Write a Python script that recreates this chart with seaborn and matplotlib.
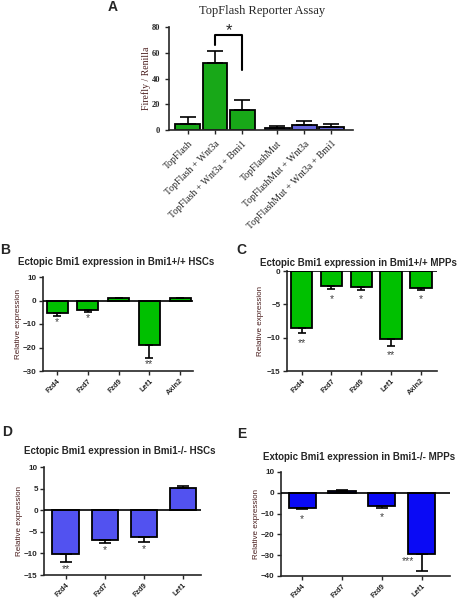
import matplotlib
matplotlib.use("Agg")
import matplotlib.pyplot as plt
import seaborn as sns
import numpy as np
import pandas as pd

# ---- Panel A: TopFlash reporter assay
a_labels = ["TopFlash", "TopFlash + Wnt3a", "TopFlash + Wnt3a + Bmi1",
            "TopFlashMut", "TopFlashMut + Wnt3a", "TopFlashMut + Wnt3a + Bmi1"]
a_group = ["wt", "wt", "wt", "mut", "mut", "mut"]
a_mean = [5, 52, 15.5, 1.5, 4, 2.5]
a_err = [5, 9, 8, 1.5, 3, 2.5]

# ---- Panels B-E: relative expression
b_genes = ["Fzd4", "Fzd7", "Fzd9", "Lef1", "Axin2"]
b_mean = [-5.5, -4, 0.9, -19, 0.9]
b_err = [1.0, 1.0, 0.2, 5.5, 0.2]
b_stars = ["*", "*", "", "**", ""]

c_genes = ["Fzd4", "Fzd7", "Fzd9", "Lef1", "Axin2"]
c_mean = [-8.5, -2.3, -2.4, -10.2, -2.5]
c_err = [0.8, 0.4, 0.4, 1.0, 0.3]
c_stars = ["**", "*", "*", "**", "*"]

d_genes = ["Fzd4", "Fzd7", "Fzd9", "Lef1"]
d_mean = [-10.2, -6.9, -6.3, 5.1]
d_err = [1.8, 0.7, 1.1, 0.5]
d_stars = ["**", "*", "*", ""]

e_genes = ["Fzd4", "Fzd7", "Fzd9", "Lef1"]
e_mean = [-7.2, 1.0, -6.5, -29.5]
e_err = [0.8, 0.2, 1.0, 8.0]
e_stars = ["*", "", "*", "***"]

GREEN = "#00c000"
LBLUE = "#5252f0"
BLUE = "#0a0af5"
LABCOL = "#4a1e1e"
STARCOL = "#404040"

sns.set_style("ticks")
plt.rcParams["font.family"] = ["Liberation Sans", "DejaVu Sans"]
plt.rcParams["axes.linewidth"] = 1.2
plt.rcParams["xtick.major.width"] = 1.0
plt.rcParams["ytick.major.width"] = 1.0
plt.rcParams["xtick.major.size"] = 3
plt.rcParams["ytick.major.size"] = 3

W, H = 457, 600
fig = plt.figure(figsize=(W / 100, H / 100), dpi=100)


def box(x0, x1, ytop, ybot):
    return [x0 / W, 1 - ybot / H, (x1 - x0) / W, (ybot - ytop) / H]


def ftext(x, y, s, **kw):
    fig.text(x / W, 1 - y / H, s, **kw)


def errbars(ax, xs, mean, err, cap):
    mean = np.array(mean)
    err = np.array(err)
    up = np.where(mean > 0, err, 0)
    lo = np.where(mean < 0, err, 0)
    ax.errorbar(xs, mean, yerr=[lo, up], fmt="none", ecolor="black",
                elinewidth=1.2, capsize=cap, capthick=1.2, zorder=3)


# ---------------- Panel A
A_L, A_R = 169, 353
axA = fig.add_axes(box(A_L, A_R, 27, 130))
a_pos = [0, 1, 2, 3.3, 4.3, 5.3]
dfA = pd.DataFrame({"x": a_pos, "y": a_mean, "g": a_group})
sns.barplot(data=dfA, x="x", y="y", hue="g", native_scale=True,
            palette={"wt": GREEN, "mut": LBLUE}, width=0.92,
            edgecolor="black", linewidth=1.3, errorbar=None, legend=False, ax=axA)
errbars(axA, a_pos, a_mean, a_err, 6)
axA.set_xlim(-0.7, 6.1)
axA.set_ylim(0, 80)
axA.set_yticks([0, 20, 40, 60, 80])
axA.set_xticks(a_pos)
axA.set_xticklabels(a_labels, rotation=45, ha="right", rotation_mode="anchor",
                    family="Liberation Serif", fontsize=7)
axA.tick_params(axis="y", labelsize=6)
for t in axA.get_yticklabels():
    t.set_family("Liberation Serif")
    t.set_fontweight("bold")
axA.set_xlabel("")
axA.set_ylabel("Firefly / Renilla", family="Liberation Serif", fontsize=7,
               color=LABCOL)
axA.yaxis.set_label_coords((151 - A_L) / (A_R - A_L), 0.5)
sns.despine(ax=axA)
# significance bracket
axA.plot([1, 1, 2, 2], [66, 74, 74, 46.5], color="black", lw=1.5, clip_on=False)
axA.text(1.5, 77.5, "*", ha="center", va="center", fontsize=12, clip_on=False)
ftext(262, 11, "TopFlash Reporter Assay", ha="center", va="center",
      family="Liberation Serif", fontsize=9)
ftext(113, 7, "A", ha="center", va="center", fontsize=10, fontweight="bold")


def expr_panel(px, genes, mean, err, stars, color, ylim, yticks, xlim,
               width, cap, star_off, ylab_x):
    x0, x1, yt, yb = px
    ax = fig.add_axes(box(x0, x1, yt, yb))
    df = pd.DataFrame({"gene": genes, "val": mean})
    sns.barplot(data=df, x="gene", y="val", color=color, width=width,
                edgecolor="black", linewidth=1.3, errorbar=None, ax=ax)
    for p in ax.patches:
        p.set_facecolor(color)
    xs = np.arange(len(genes))
    errbars(ax, xs, mean, err, cap)
    ax.axhline(0, color="black", lw=1.2, zorder=4)
    for x, m, e, s in zip(xs, mean, err, stars):
        if s:
            ax.text(x, m - e - star_off, s, ha="center", va="top",
                    fontsize=7.5, color=STARCOL)
    ax.set_xlim(*xlim)
    ax.set_ylim(*ylim)
    ax.set_yticks(yticks)
    ax.set_xticks(xs)
    ax.set_xticklabels(genes, rotation=45, ha="right", rotation_mode="anchor",
                       fontsize=5.3, fontweight="bold")
    ax.tick_params(axis="x", pad=1.5)
    ax.tick_params(axis="y", labelsize=5.8, pad=1.5)
    for t in ax.get_yticklabels():
        t.set_fontweight("bold")
    ax.set_xlabel("")
    ax.set_ylabel("Relative expression", fontsize=5.8, color=LABCOL)
    ax.yaxis.set_label_coords((ylab_x - x0) / (x1 - x0), 0.5)
    sns.despine(ax=ax)
    return ax


# ---------------- Panel B
axB = expr_panel((43, 193, 277, 371), b_genes, b_mean, b_err, b_stars, GREEN,
                 (-30, 10), [-30, -20, -10, 0, 10], (-0.46, 4.42), 0.68, 3,
                 0.4, 22)
ftext(116, 262, "Ectopic Bmi1 expression in Bmi1+/+ HSCs", ha="center",
      va="center", fontsize=7, fontweight="semibold")
ftext(5, 250, "B", ha="center", va="center", fontsize=10, fontweight="bold")

# ---------------- Panel C
axC = expr_panel((287, 437, 271, 371), c_genes, c_mean, c_err, c_stars, GREEN,
                 (-15, 0), [-15, -10, -5, 0], (-0.49, 4.54), 0.72, 3,
                 0.7, 264)
ftext(358, 263, "Ectopic Bmi1 expression in Bmi1+/+ MPPs", ha="center",
      va="center", fontsize=7, fontweight="semibold")
ftext(241, 250, "C", ha="center", va="center", fontsize=10, fontweight="bold")

# ---------------- Panel D
axD = expr_panel((44, 201, 467, 575), d_genes, d_mean, d_err, d_stars, LBLUE,
                 (-15, 10), [-15, -10, -5, 0, 5, 10], (-0.55, 3.46), 0.67, 4,
                 0.5, 23)
ftext(120, 451, "Ectopic Bmi1 expression in Bmi1-/- HSCs", ha="center",
      va="center", fontsize=7, fontweight="semibold")
ftext(7, 432, "D", ha="center", va="center", fontsize=10, fontweight="bold")

# ---------------- Panel E
e_stars_main = [s if s != "***" else "" for s in e_stars]
axE = expr_panel((281, 450, 472, 576), e_genes, e_mean, e_err, e_stars_main, BLUE,
                 (-40, 10), [-40, -30, -20, -10, 0, 10], (-0.53, 3.71), 0.68, 4,
                 2.0, 260)
# the *** on Lef1 sits left of its long error bar
axE.text(3 - 0.34, e_mean[3] - 1.0, e_stars[3], ha="center", va="top",
         fontsize=7.5, color=STARCOL)
ftext(359, 457, "Extopic Bmi1 expression in Bmi1-/- MPPs", ha="center",
      va="center", fontsize=7, fontweight="semibold")
ftext(242, 434, "E", ha="center", va="center", fontsize=10, fontweight="bold")

fig.savefig("out.png", dpi=100)
